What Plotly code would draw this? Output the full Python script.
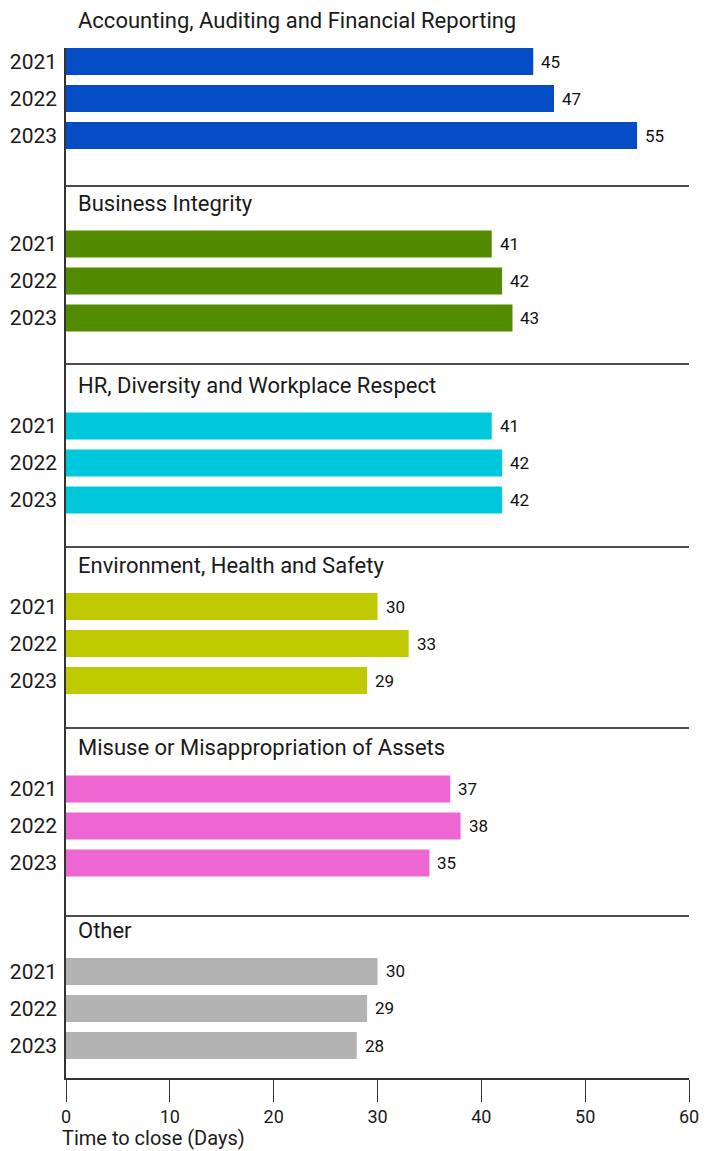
import plotly.graph_objects as go

# Data: time to close (days) by category and year
years = ["2021", "2022", "2023"]
categories = [
    "Accounting, Auditing and Financial Reporting",
    "Business Integrity",
    "HR, Diversity and Workplace Respect",
    "Environment, Health and Safety",
    "Misuse or Misappropriation of Assets",
    "Other",
]
accounting = [45, 47, 55]
business = [41, 42, 43]
hr_diversity = [41, 42, 42]
environment = [30, 33, 29]
misuse = [37, 38, 35]
other = [30, 29, 28]
series = [accounting, business, hr_diversity, environment, misuse, other]
colors = ["#044DC5", "#528A00", "#00C8DC", "#BFCA00", "#EE66D2", "#B3B3B3"]

# Layout geometry (pixels)
W, H = 716, 1151
M_L, M_R, M_T, M_B = 66, 27, 48, 73
PLOT_H = H - M_T - M_B
seps = [48, 185, 363, 546, 727, 915, 1078]  # group boundaries
pad_above = [13.5, 59, 63, 60.5, 62, 56.5]  # boundary -> first bar centre
PITCH = 37
FONT = "Roboto, Arial, sans-serif"
INK = "#1A1A1A"
LINE = "#4D4D4D"


def paper_y(px):
    return (H - M_B - px) / PLOT_H


fig = go.Figure()
layout = {}
annotations = []
n = len(categories)

for i, (cat, vals, col) in enumerate(zip(categories, series, colors)):
    k = "" if i == 0 else str(i + 1)
    xa, ya = f"x{k}", f"y{k}"
    fig.add_trace(
        go.Bar(
            x=vals,
            y=years,
            orientation="h",
            marker={"color": col, "line": {"width": 0}},
            width=0.73,
            xaxis=xa,
            yaxis=ya,
            showlegend=False,
            hovertemplate=cat + "<br>%{y}: %{x} days<extra></extra>",
        )
    )
    top_px, bot_px = seps[i], seps[i + 1]
    height = bot_px - top_px
    r_top = -pad_above[i] / PITCH
    r_bot = r_top + height / PITCH
    is_bottom = i == n - 1
    layout[f"yaxis{k}"] = {
        "domain": [paper_y(bot_px), paper_y(top_px)],
        "anchor": xa,
        "type": "category",
        "categoryorder": "array",
        "categoryarray": years,
        "range": [r_bot, r_top],
        "showline": True,
        "linecolor": "#333333",
        "linewidth": 1.5,
        "ticks": "",
        "ticklabelstandoff": 3,
        "tickfont": {"size": 21, "color": INK},
        "showgrid": False,
        "zeroline": False,
        "automargin": False,
        "fixedrange": True,
    }
    xaxis = {
        "domain": [0, 1],
        "anchor": ya,
        "range": [0, 60],
        "dtick": 10,
        "showline": True,
        "linecolor": LINE,
        "linewidth": 1.5,
        "showgrid": False,
        "zeroline": False,
        "automargin": False,
        "fixedrange": True,
    }
    if i > 0:
        xaxis["matches"] = "x"
    if is_bottom:
        xaxis.update(
            {
                "ticks": "outside",
                "ticklen": 22,
                "tickwidth": 1,
                "tickcolor": "#333333",
                "tickfont": {"size": 18, "color": INK},
                "linecolor": "#333333",
            }
        )
    else:
        xaxis.update({"ticks": "", "showticklabels": False})
    layout[f"xaxis{k}"] = xaxis

    # Group title
    annotations.append(
        {
            "text": cat,
            "xref": "paper",
            "yref": "paper",
            "x": 10 / (W - M_L - M_R),
            "y": paper_y(top_px + pad_above[i] - 41),
            "xanchor": "left",
            "yanchor": "middle",
            "showarrow": False,
            "font": {"size": 22, "color": INK},
        }
    )
    # Value labels (y given as category index)
    for j, v in enumerate(vals):
        annotations.append(
            {
                "text": str(v),
                "xref": xa,
                "yref": ya,
                "x": v,
                "y": j,
                "xanchor": "left",
                "yanchor": "middle",
                "xshift": 6,
                "showarrow": False,
                "font": {"size": 17, "color": "#111111"},
            }
        )

# Axis title
annotations.append(
    {
        "text": "Time to close (Days)",
        "xref": "paper",
        "yref": "paper",
        "x": -6 / (W - M_L - M_R),
        "y": paper_y(1138),
        "xanchor": "left",
        "yanchor": "middle",
        "showarrow": False,
        "font": {"size": 20, "color": INK},
    }
)

fig.update_layout(
    **layout,
    annotations=annotations,
    width=W,
    height=H,
    autosize=False,
    margin={"l": M_L, "r": M_R, "t": M_T, "b": M_B, "pad": 0},
    paper_bgcolor="white",
    plot_bgcolor="white",
    font={"family": FONT, "color": INK},
)

fig.write_html(
    "out.html",
    config={"displayModeBar": False},
    post_script="document.body.style.margin='0';document.body.style.overflow='hidden';",
)
